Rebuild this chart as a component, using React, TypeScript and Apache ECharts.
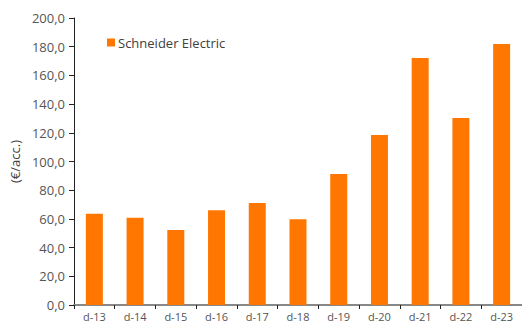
import React, { useEffect, useRef } from "react";
import * as echarts from "echarts";

const categories = ["d-13", "d-14", "d-15", "d-16", "d-17", "d-18", "d-19", "d-20", "d-21", "d-22", "d-23"];
const seriesName = "Schneider Electric";
const values = [63.6, 60.8, 52.3, 66.0, 71.0, 59.7, 91.3, 118.5, 172.1, 130.3, 181.9];
const yAxisName = "(€/acc.)";

export default function App() {
  const ref = useRef<HTMLDivElement>(null);
  useEffect(() => {
    if (!ref.current) return;
    const chart = echarts.init(ref.current, null, { renderer: "svg" });
    const font = "Open Sans";
    chart.setOption({
      animation: false,
      grid: { left: 72, right: 0, top: 18, bottom: 19, containLabel: false },
      legend: {
        data: [seriesName],
        left: 102,
        top: 31,
        icon: "rect",
        itemWidth: 8,
        itemHeight: 8,
        itemGap: 4,
        textStyle: { fontFamily: font, fontSize: 13, color: "#404040", padding: [0, 0, 0, -2] },
      },
      xAxis: {
        type: "category",
        data: categories,
        axisLine: { lineStyle: { color: "#888888", width: 2 } },
        axisTick: { show: true, length: 4, lineStyle: { color: "#222222" }, alignWithLabel: false },
        axisLabel: { fontFamily: font, fontSize: 11, color: "#555555", margin: 6 },
      },
      yAxis: {
        type: "value",
        min: 0,
        max: 200,
        interval: 20,
        name: yAxisName,
        nameLocation: "middle",
        nameGap: 48,
        nameTextStyle: { fontFamily: font, fontSize: 13, color: "#404040" },
        axisLine: { show: true, lineStyle: { color: "#222222", width: 1 } },
        axisTick: { show: true, length: 5, lineStyle: { color: "#222222" } },
        splitLine: { show: false },
        axisLabel: {
          fontFamily: font,
          fontSize: 13,
          color: "#555555",
          margin: 9,
          formatter: (v: number) => v.toFixed(1).replace(".", ","),
        },
      },
      series: [
        {
          name: seriesName,
          type: "bar",
          data: values,
          barWidth: 17,
          itemStyle: { color: "#FF7700" },
        },
      ],
    });
    return () => chart.dispose();
  }, []);
  return <div ref={ref} style={{ width: 522, height: 324, position: "absolute", left: 0, top: 0 }} />;
}
